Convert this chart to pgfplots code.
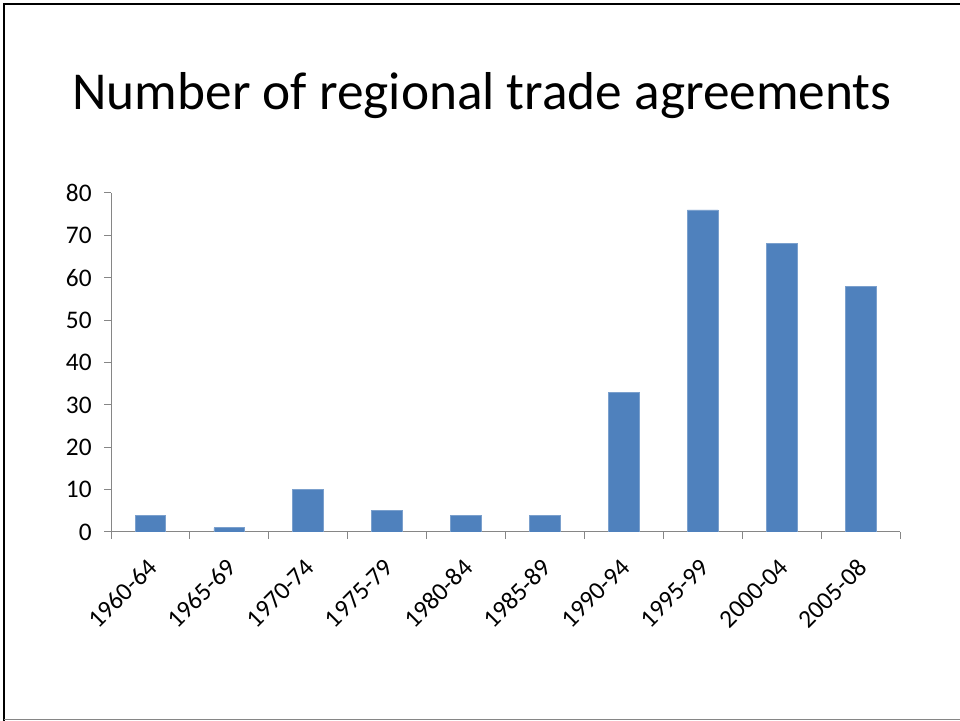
\documentclass[border=0pt]{standalone}
\usepackage{fontspec}
\setmainfont{Carlito}
\usepackage{pgfplots}
\pgfplotsset{compat=1.18}
\definecolor{barblue}{HTML}{4F81BD}
\definecolor{axgray}{HTML}{868686}
\begin{document}
\begin{tikzpicture}
\path[use as bounding box] (0,0) rectangle (720bp,540.75bp);
\draw[black,line width=1.9bp] (3bp,0) -- (3bp,537.75bp) -- (720bp,537.75bp);
\draw[axgray,line width=1bp] (3bp,1.1bp) -- (720bp,1.1bp);
\node[anchor=base,font=\fontsize{40bp}{48bp}\selectfont] at (361.5bp,458.25bp) {Number of regional trade agreements};
\begin{axis}[
  at={(83.25bp,141.75bp)}, anchor=south west,
  scale only axis, width=591.75bp, height=254.25bp,
  xmin=-0.5, xmax=9.5, ymin=0, ymax=80,
  axis x line=bottom, axis y line=left,
  axis line style={axgray,-, line width=0.75bp},
  every tick/.style={axgray, line width=0.75bp},
  tick align=outside,
  ytick={0,10,...,80},
  major tick length=5bp,
  xtick={-0.5,0.5,...,9.5},
  xticklabels={},
  extra x ticks={0,...,9},
  extra x tick labels={1960-64,1965-69,1970-74,1975-79,1980-84,1985-89,1990-94,1995-99,2000-04,2005-08},
  extra x tick style={major tick length=0pt, tick style={draw=none}},
  /pgf/number format/assume math mode=true,
  tick label style={font=\fontsize{19bp}{23bp}\selectfont, black},
  xticklabel style={xshift=4bp, yshift=-21bp, rotate=45, anchor=east},
  yticklabel style={xshift=-6bp},
  ybar, bar width=0.39,
]
\addplot[fill=barblue, draw=barblue!75!white, line width=0.6bp] coordinates {
(0,4) (1,1) (2,10) (3,5) (4,4) (5,4) (6,33) (7,76) (8,68) (9,58)};
\end{axis}
\end{tikzpicture}
\end{document}
